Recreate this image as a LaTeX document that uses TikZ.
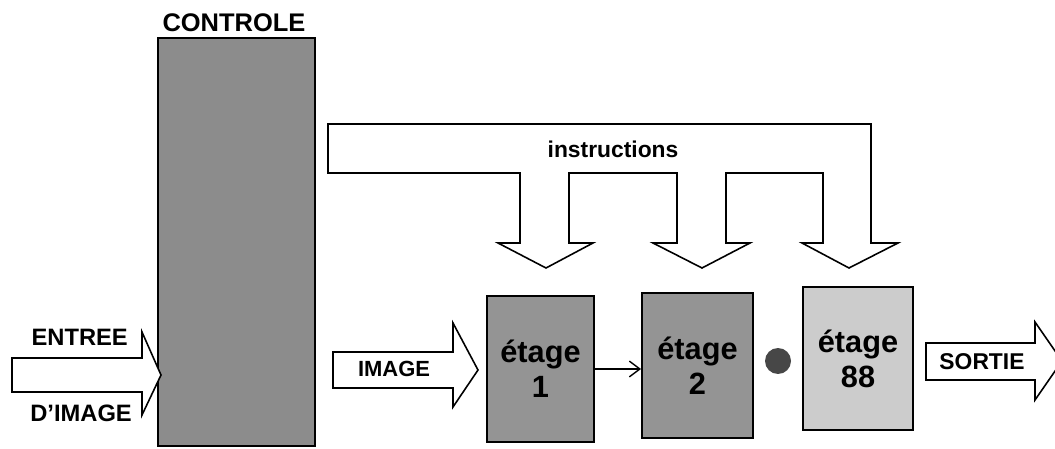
\documentclass[tikz,border=0pt]{standalone}
\usepackage{fontspec}
\setmainfont{Liberation Sans}
\usetikzlibrary{arrows.meta}

\tikzset{
  lbl/.style={font=\bfseries\fontsize{13.5}{16}\selectfont},
  bigarrow/.style={draw, line width=0.9pt, fill=white, line join=miter},
  stagebox/.style={draw, line width=1.1pt, fill=black!42, align=center,
    inner sep=0pt, font=\bfseries\fontsize{17.5}{20}\selectfont},
}

\begin{document}
\begin{tikzpicture}[x=0.02cm, y=-0.02cm]
    \useasboundingbox (0,0) rectangle (1055,449);

    % control unit
    \node[draw, line width=1.1pt, fill=black!45, minimum width=3.14cm, minimum height=8.16cm] (ctrl) at (236.5,242) {};
    \node[lbl, font=\bfseries\fontsize{14.5}{17}\selectfont] (ctrltxt) at (234,23) {CONTROLE};

    % input arrow
    \draw[bigarrow] (12,358) -- (142,358) -- (142,332) -- (161,375) -- (142,415) -- (142,392) -- (12,392) -- cycle;
    \node[lbl, anchor=east] (entree) at (134,337) {ENTREE};
    \node[lbl, anchor=east] (dimage) at (138,413) {D'IMAGE};

    % instruction bus with its three branches
    \draw[bigarrow] (328,124) -- (871,124) -- (871,243) -- (898,243) -- (849,268) -- (802,243) -- (823,243)
        -- (823,173) -- (726,173) -- (726,243) -- (750,243) -- (702,268) -- (653,243) -- (677,243)
        -- (677,173) -- (569,173) -- (569,243) -- (593,243) -- (546,268) -- (498,243) -- (520,243)
        -- (520,173) -- (328,173) -- cycle;
    \node[lbl, font=\bfseries\fontsize{13}{16}\selectfont] (instr) at (613,149) {instructions};

    % image arrow
    \draw[bigarrow] (333,352) -- (453,352) -- (453,323) -- (478,370) -- (453,407) -- (453,388) -- (333,388) -- cycle;
    \node[lbl, font=\bfseries\fontsize{12.5}{15}\selectfont] (image) at (394,369) {IMAGE};

    % pipeline stages
    \node[stagebox, minimum width=2.14cm, minimum height=2.92cm] (e1) at (540.5,369) {étage\\1};
    \node[stagebox, minimum width=2.22cm, minimum height=2.90cm] (e2) at (697.5,365.5) {étage\\2};
    \node[stagebox, fill=black!20, minimum width=2.20cm, minimum height=2.86cm] (e88) at (858,358.5) {étage\\88};
    \draw[line width=0.8pt, -{Straight Barb[length=6pt,width=9pt]}] (e1.east) -- (e1.east -| e2.west);
    \node[circle, fill=black!72, minimum size=0.52cm, inner sep=0pt] (dot) at (778,361) {};

    % output arrow
    \draw[bigarrow] (926,343) -- (1035,343) -- (1035,322) -- (1062,361) -- (1035,400) -- (1035,380) -- (926,380) -- cycle;
    \node[lbl, font=\bfseries\fontsize{13}{15}\selectfont] (sortie) at (982,362) {SORTIE};
\end{tikzpicture}
\end{document}
